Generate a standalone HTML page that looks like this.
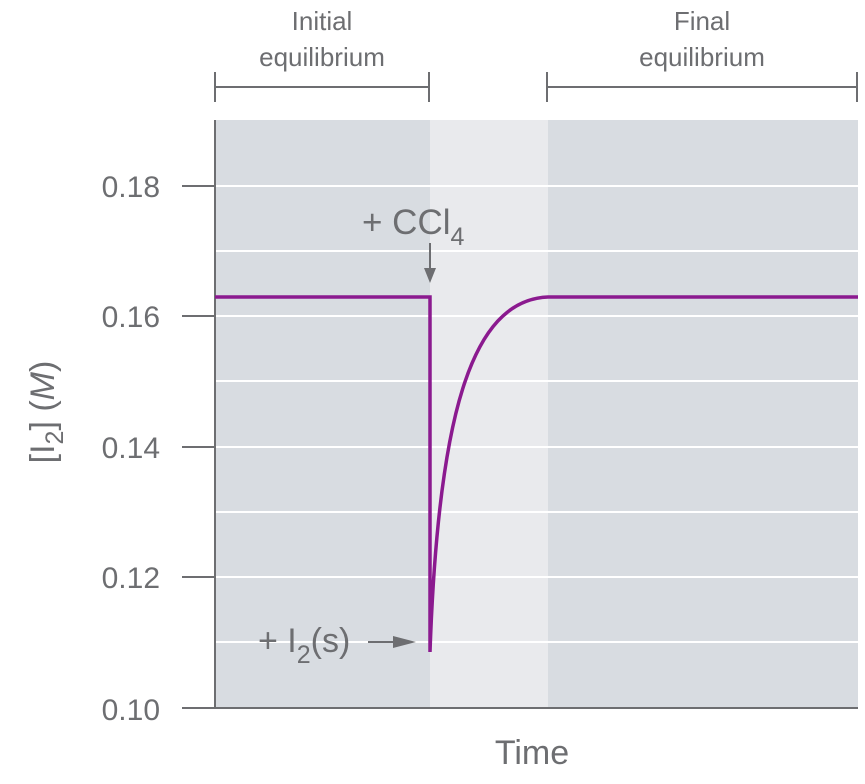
<!DOCTYPE html>
<html><head><style>
body{margin:0;background:#fff;}
svg text{font-family:"Liberation Sans",sans-serif;fill:#6d6e71;}
</style></head><body>
<svg width="865" height="779" viewBox="0 0 865 779" xmlns="http://www.w3.org/2000/svg">
<rect x="215" y="120" width="215" height="588" fill="#d8dce1"/>
<rect x="430" y="120" width="118" height="588" fill="#e9eaed"/>
<rect x="548" y="120" width="310" height="588" fill="#d8dce1"/>
<g stroke="#fff" stroke-width="2">
<line x1="215" y1="186" x2="858" y2="186"/><line x1="215" y1="251" x2="858" y2="251"/>
<line x1="215" y1="316" x2="858" y2="316"/><line x1="215" y1="381" x2="858" y2="381"/>
<line x1="215" y1="447" x2="858" y2="447"/><line x1="215" y1="512" x2="858" y2="512"/>
<line x1="215" y1="577" x2="858" y2="577"/><line x1="215" y1="642" x2="858" y2="642"/>
</g>
<g stroke="#6d6e71" stroke-width="2" fill="none">
<line x1="215" y1="120" x2="215" y2="709"/>
<line x1="182" y1="708" x2="858" y2="708"/>
<line x1="182" y1="186" x2="215" y2="186"/><line x1="182" y1="316" x2="215" y2="316"/>
<line x1="182" y1="447" x2="215" y2="447"/><line x1="182" y1="577" x2="215" y2="577"/>
<line x1="215" y1="87" x2="429" y2="87"/><line x1="215" y1="72" x2="215" y2="102"/><line x1="429" y1="72" x2="429" y2="102"/>
<line x1="547" y1="87" x2="857" y2="87"/><line x1="547" y1="72" x2="547" y2="102"/><line x1="857" y1="72" x2="857" y2="102"/>
<line x1="430" y1="243" x2="430" y2="275"/>
<line x1="368" y1="642" x2="398" y2="642"/>
</g>
<polygon points="424,268 436,268 430,283" fill="#6d6e71"/>
<polygon points="393,636 393,648 416,642" fill="#6d6e71"/>
<path d="M215,297 L430,297 L430,652 C438,420 470,300 548,297 L858,297" fill="none" stroke="#8b1a8f" stroke-width="3.5"/>
<g font-size="30" text-anchor="end">
<text x="160" y="197">0.18</text><text x="160" y="327">0.16</text>
<text x="160" y="458">0.14</text><text x="160" y="588">0.12</text><text x="160" y="720">0.10</text>
</g>
<text x="532" y="764" font-size="34" text-anchor="middle">Time</text>
<text x="322" y="30" font-size="26" text-anchor="middle">Initial</text>
<text x="322" y="66" font-size="26" text-anchor="middle">equilibrium</text>
<text x="702" y="30" font-size="26" text-anchor="middle">Final</text>
<text x="702" y="66" font-size="26" text-anchor="middle">equilibrium</text>
<text x="362" y="234" font-size="35">+ CCl<tspan font-size="25" dy="11">4</tspan></text>
<text x="258" y="652" font-size="34">+ I<tspan font-size="25" dy="11">2</tspan><tspan dy="-11">(s)</tspan></text>
<text transform="translate(54,412) rotate(-90)" font-size="34" text-anchor="middle">[I<tspan font-size="25" dy="9">2</tspan><tspan dy="-9">] (</tspan><tspan font-style="italic">M</tspan>)</text>
</svg>
</body></html>
